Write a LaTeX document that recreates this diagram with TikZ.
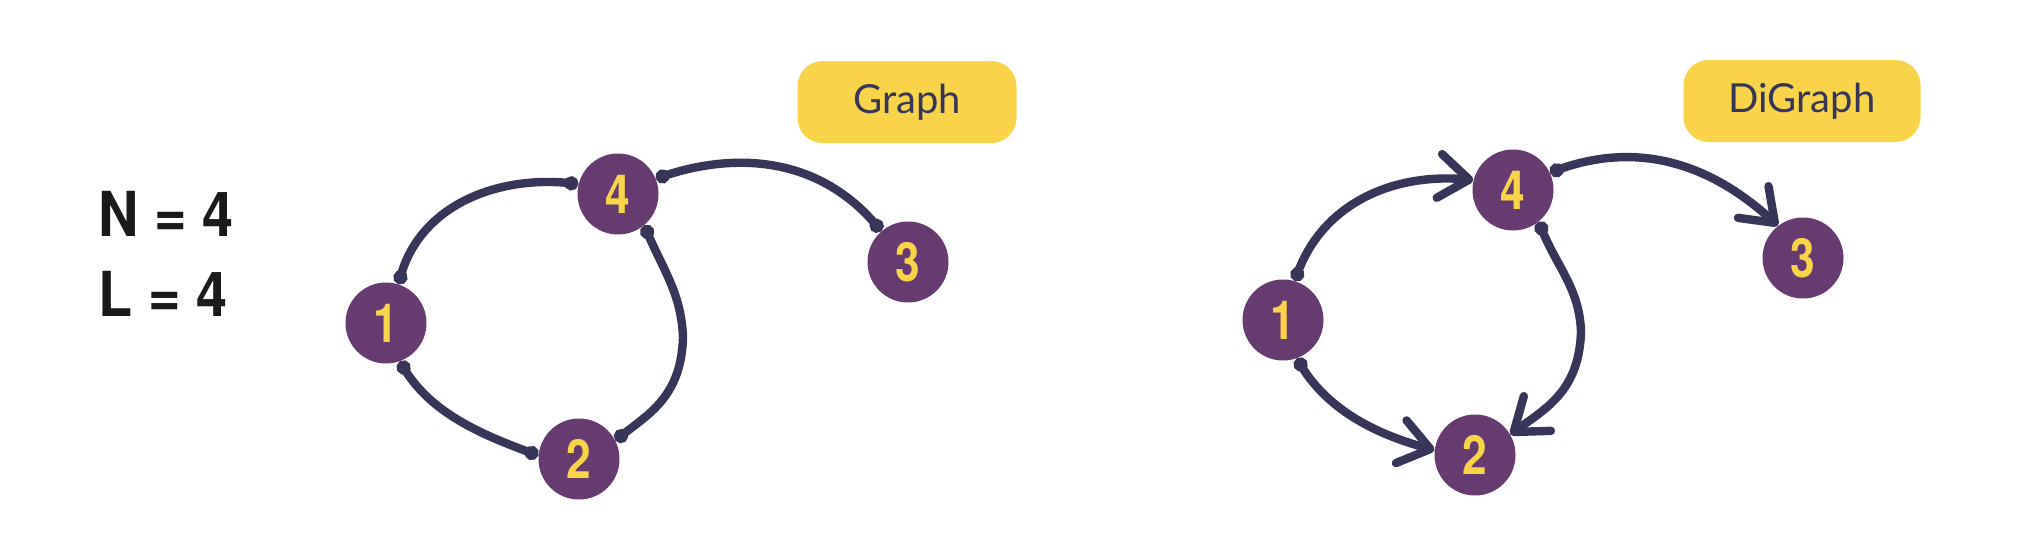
\documentclass[tikz,border=0pt]{standalone}
\usepackage{fontspec}
\usetikzlibrary{arrows.meta,bending}
\newfontfamily\dinfont{TeX Gyre Heros}[FakeStretch=0.9]
\newfontfamily\digfont{TeX Gyre Heros}[FakeStretch=0.82]
\newfontfamily\handfont{Lato}
\definecolor{nodepurple}{HTML}{673A72}
\definecolor{gold}{HTML}{F9D449}
\definecolor{navy}{HTML}{37355A}
\definecolor{ink}{HTML}{1A1A1A}
\begin{document}
\begin{tikzpicture}[x=0.5pt,y=-0.5pt,
  vert/.style={circle,fill=nodepurple,minimum size=40.5pt,inner sep=0pt,text=gold,font=\digfont\bfseries\fontsize{27}{27}\selectfont},
  lbl/.style={rounded corners=12.5pt,fill=gold,minimum height=41pt,inner sep=0pt,text=navy,font=\handfont\fontsize{20}{20}\selectfont},
  conn/.style={draw=navy,line width=4.2pt,line cap=round,line join=round},
  undir/.style={conn,{Circle[length=7pt]}-{Circle[length=7pt]}},
  dir/.style={conn,{Circle[length=7pt]}-{Straight Barb[length=15pt,width=22pt,round]}},
  stat/.style={anchor=west,inner sep=0pt,text=ink,font=\dinfont\bfseries\fontsize{31}{31}\selectfont}]
\useasboundingbox (0,0) rectangle (2038,552);

% statistics
\node[stat] (n) at (98,214) {N = 4};
\node[stat] (l) at (98,294) {L = 4};

% labels
\node[lbl,minimum width=109.5pt] (g) at (907,102) {Graph};
\node[lbl,minimum width=118.5pt] (dg) at (1802,101) {DiGraph};

% undirected graph
\node[vert] (a1) at (386,323) {1};
\node[vert] (a4) at (618,194) {4};
\node[vert] (a2) at (579,459) {2};
\node[vert] (a3) at (908,262) {3};
\coordinate (am) at (683,338);

\draw[undir] (a1.72) to[out=78,in=172] (a4.166);
\draw[undir] (a4.22) to[out=20,in=128] (a3.131);
\draw[undir] (a4.-50) to[out=-68,in=92] (am) to[out=-92,in=40,out looseness=1.3,in looseness=0.8] (a2.27);
\draw[undir] (a1.-70) to[out=-62,in=160,looseness=0.9] (a2.175);

% directed graph
\node[vert] (b1) at (1283,320) {1};
\node[vert] (b4) at (1513,190) {4};
\node[vert] (b2) at (1475,455) {2};
\node[vert] (b3) at (1803,258) {3};
\coordinate (bm) at (1581,332);

\draw[dir] (b1.73) to[out=73,in=173] (b4.166);
\draw[dir] (b4.25) to[out=22,in=136] (b3.128);
\draw[dir] (b1.-70) to[out=-62,in=166,looseness=0.9] (b2.173);
\draw[dir] (b4.-51) to[out=-70,in=92] (bm) to[out=-92,in=38,out looseness=1.3,in looseness=0.8] (b2.30);
\end{tikzpicture}
\end{document}
